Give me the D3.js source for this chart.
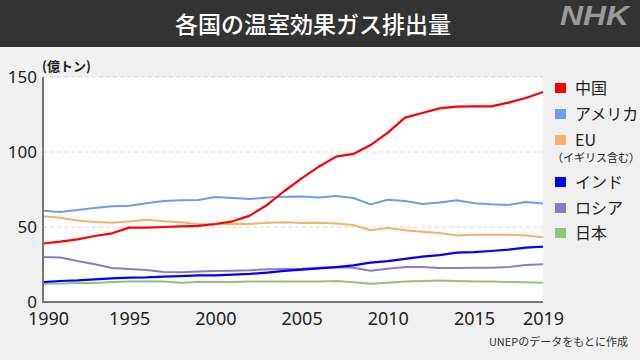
<!DOCTYPE html>
<html><head><meta charset="utf-8">
<script src="https://cdn.jsdelivr.net/npm/d3@7"></script>
<style>
html,body{margin:0;padding:0;background:#f0f0f0;}
svg{display:block;font-family:"Noto Sans CJK JP","Noto Sans",sans-serif;}
</style></head>
<body><svg id="c" width="640" height="360"></svg>
<script>
const years = d3.range(1990, 2020);
const seriesNames = ["中国","アメリカ","EU","インド","ロシア","日本"];
const seriesColors = ["#ff0000","#6d9eeb","#f6b26b","#0000ff","#8e7cc3","#93c47d"];
const china = [39,40.2,41.8,44,45.8,49.6,49.6,50,50.4,50.7,52,53.8,57.6,64.7,74,82.4,90.2,96.9,98.7,104.6,112.9,122.9,126,129.1,130.2,130.4,130.4,132.9,136,140];
const usa = [60.9,60,61.3,62.7,63.8,64.2,65.8,67.3,67.8,68,70,69.3,68.7,69.6,70.2,70.4,69.6,70.7,69.3,65.1,68.2,67.3,65.3,66.4,67.8,65.8,65.1,64.7,66.7,65.6];
const eu = [57.1,56.2,54.4,53.3,52.9,53.6,54.9,53.8,53.1,51.8,51.8,52.2,52,52.9,53.1,52.7,52.9,52.4,51.3,47.8,49.3,47.8,46.9,46,44.4,44.9,44.9,44.9,44.4,43.1];
const india = [13.3,14,14.4,15.1,15.8,16.2,16.4,16.9,17.3,17.8,17.8,18.2,18.7,19.6,20.7,21.6,22.4,23.3,24.4,26.2,27.3,28.7,30.2,31.3,32.9,33.3,34,34.9,36.2,36.9];
const russia = [30,29.6,27.3,25.1,22.7,22,21.3,20,19.8,20.4,20.7,20.9,21.1,21.8,22,22.2,22.9,23.1,22.9,20.9,22.2,23.3,23.3,22.7,22.7,22.9,22.9,23.3,24.7,25.1];
const japan = [12.2,12.4,12.7,12.7,13.3,13.6,13.8,13.6,12.9,13.3,13.3,13.3,13.6,13.6,13.6,13.6,13.6,14,13.1,12.2,12.9,13.6,14,14.4,14,13.6,13.6,13.3,13.1,12.9];
const seriesValues = [china,usa,eu,india,russia,japan];
const yTicks = [0,50,100,150];
const xTicks = [1990,1995,2000,2005,2010,2015,2019];

const svg = d3.select("#c");
// header
svg.append("rect").attr("x",0).attr("y",0).attr("width",640).attr("height",47).attr("fill","#333333");
svg.append("text").attr("x",313).attr("y",33).attr("text-anchor","middle").attr("fill","#fff")
  .attr("font-size",23).attr("font-weight",500).text("各国の温室効果ガス排出量");
svg.append("text").attr("x",560).attr("y",25).attr("fill","#9a9a9a")
  .attr("font-size",27).attr("font-weight",900).attr("font-style","italic")
  .attr("textLength",69).attr("lengthAdjust","spacingAndGlyphs")
  .attr("font-family","'Liberation Sans',Arial,sans-serif").text("NHK");

const L=43,R=543,T=77,B=302;
const x = d3.scaleLinear().domain([1990,2019]).range([L,R]);
const y = d3.scaleLinear().domain([0,150]).range([B,T]);

svg.append("rect").attr("x",L).attr("y",T).attr("width",R-L).attr("height",B-T).attr("fill","#fff");
// grid
svg.append("g").selectAll("line").data(yTicks.filter(d=>d>0)).join("line")
  .attr("x1",L).attr("x2",R).attr("y1",d=>y(d)).attr("y2",d=>y(d))
  .attr("stroke","#d8d8d8").attr("stroke-dasharray","4,3").attr("stroke-width",1);

// axes
const yAxis = d3.axisLeft(y).tickValues(yTicks).tickSize(0).tickPadding(6);
const gy = svg.append("g").attr("transform",`translate(${L},0)`).call(yAxis);
gy.select(".domain").remove();
gy.selectAll("text").attr("font-size",17).attr("fill","#222").attr("font-family","'Noto Sans',sans-serif");
const xAxis = d3.axisBottom(x).tickValues(xTicks).tickFormat(d3.format("d")).tickSize(0).tickPadding(10);
const gx = svg.append("g").attr("transform",`translate(0,${B})`).call(xAxis);
gx.select(".domain").remove();
gx.selectAll("text").attr("font-size",18).attr("fill","#222").attr("font-family","'Noto Sans',sans-serif");
gx.selectAll(".tick").filter(d=>d===1990).select("text").attr("dx",5);

const line = d3.line().x((d,i)=>x(years[i])).y(d=>y(d));
const order = [5,4,2,1,3,0];
order.forEach(k=>{
  svg.append("path").datum(seriesValues[k]).attr("d",line).attr("fill","none")
    .attr("stroke",seriesColors[k]).attr("stroke-width",(k===0||k===3)?2.2:2)
    .attr("stroke-linejoin","round");
});
svg.append("line").attr("x1",L).attr("x2",L).attr("y1",T).attr("y2",B+1).attr("stroke","#777").attr("stroke-width",2);
svg.append("line").attr("x1",L-1).attr("x2",R).attr("y1",B).attr("y2",B).attr("stroke","#777").attr("stroke-width",2);

svg.append("text").attr("x",42).attr("y",71).attr("font-size",13).attr("font-weight",700).attr("fill","#222").text("(億トン)");

// legend
const legY = [88,114,140,182,208,233];
const lg = svg.append("g");
seriesNames.forEach((n,i)=>{
  lg.append("rect").attr("x",555).attr("y",legY[i]-5).attr("width",11).attr("height",10).attr("fill",seriesColors[i]);
  lg.append("text").attr("x",575).attr("y",legY[i]+6).attr("font-size",16).attr("fill","#222").text(n);
});
lg.append("text").attr("x",552).attr("y",162).attr("font-size",11).attr("fill","#222").text("（イギリス含む）");

svg.append("text").attr("x",628).attr("y",346).attr("text-anchor","end").attr("font-size",11).attr("fill","#333").text("UNEPのデータをもとに作成");
</script></body></html>
